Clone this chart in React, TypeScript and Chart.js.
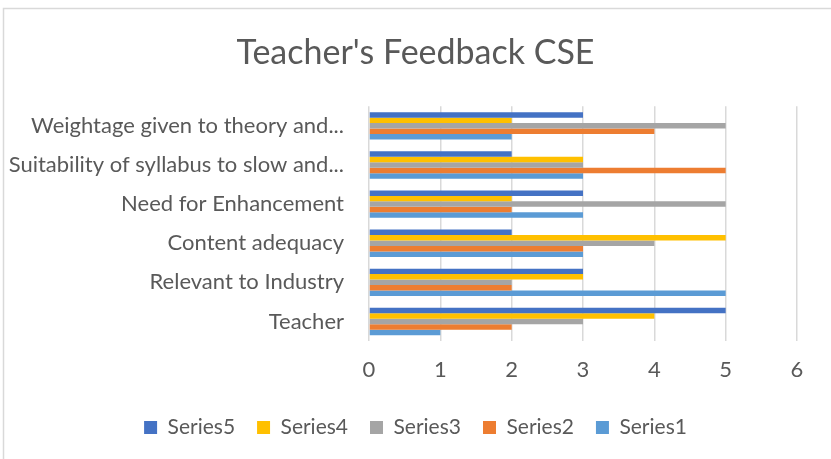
import React, { useEffect, useRef } from "react";
import { Chart, registerables } from "chart.js";

Chart.register(...registerables);

const categories = [
  "Teacher",
  "Relevant to Industry",
  "Content adequacy",
  "Need for Enhancement",
  "Suitability of syllabus to slow and...",
  "Weightage given to theory and...",
];
const series1 = [1, 5, 3, 3, 3, 2];
const series2 = [2, 2, 3, 2, 5, 4];
const series3 = [3, 2, 4, 5, 3, 5];
const series4 = [4, 3, 5, 2, 3, 2];
const series5 = [5, 3, 2, 3, 2, 3];
const xTicks = [0, 1, 2, 3, 4, 5, 6];

const FONT = "Lato, 'Open Sans', sans-serif";
const TEXT = "#595959";

const borderPlugin = {
  id: "outerBorder",
  beforeDraw(chart: any) {
    const ctx = chart.ctx;
    ctx.save();
    ctx.fillStyle = "#ffffff";
    ctx.fillRect(0, 0, chart.width, chart.height);
    ctx.strokeStyle = "#d9d9d9";
    ctx.lineWidth = 1.5;
    ctx.strokeRect(3.5, 8.5, chart.width + 10, chart.height + 10);
    ctx.restore();
  },
};

export default function App() {
  const ref = useRef<HTMLCanvasElement>(null);
  useEffect(() => {
    document.body.style.margin = "0";
    const chart = new Chart(ref.current!, {
      type: "bar",
      data: {
        labels: categories,
        datasets: [
          { label: "Series5", data: series5, backgroundColor: "#4472C4" },
          { label: "Series4", data: series4, backgroundColor: "#FFC000" },
          { label: "Series3", data: series3, backgroundColor: "#A5A5A5" },
          { label: "Series2", data: series2, backgroundColor: "#ED7D31" },
          { label: "Series1", data: series1, backgroundColor: "#5B9BD5" },
        ],
      },
      options: {
        indexAxis: "y",
        responsive: false,
        animation: false,
        layout: { padding: { left: 0, right: 0, top: 0, bottom: 11 } },
        datasets: { bar: { categoryPercentage: 0.7, barPercentage: 1.0 } } as any,
        scales: {
          x: {
            min: 0,
            max: 6,
            afterBuildTicks: (s: any) => {
              s.ticks = xTicks.map((v) => ({ value: v }));
            },
            afterFit: (s: any) => {
              s.height = 54;
            },
            grid: { color: "#d9d9d9", lineWidth: 1.5, drawTicks: false },
            border: { display: false },
            ticks: {
              stepSize: 1,
              padding: 16,
              color: TEXT,
              font: { family: FONT, size: 22 },
            },
          },
          y: {
            reverse: true,
            afterFit: (s: any) => {
              s.width = 369;
            },
            grid: { display: false },
            border: { display: false },
            ticks: {
              autoSkip: false,
              padding: 17,
              color: TEXT,
              font: { family: FONT, size: 22 },
            },
          },
          yRight: {
            type: "linear",
            position: "right",
            display: true,
            afterFit: (s: any) => {
              s.width = 34;
            },
            grid: { display: false },
            border: { display: false },
            ticks: { display: false },
          },
        },
        plugins: {
          title: {
            display: true,
            text: "Teacher's Feedback CSE",
            color: TEXT,
            font: { family: FONT, size: 34, weight: "normal" },
            padding: { top: 33, bottom: 32.5 },
          },
          legend: {
            position: "bottom",
            labels: {
              boxWidth: 13,
              boxHeight: 13,
              padding: 22,
              color: TEXT,
              font: { family: FONT, size: 21 },
            },
          },
          tooltip: { enabled: false },
        },
      },
      plugins: [borderPlugin],
    });
    return () => chart.destroy();
  }, []);
  return (
    <div style={{ position: "absolute", left: 0, top: 0, width: 831, height: 459 }}>
      <canvas ref={ref} width={831} height={459} />
    </div>
  );
}
